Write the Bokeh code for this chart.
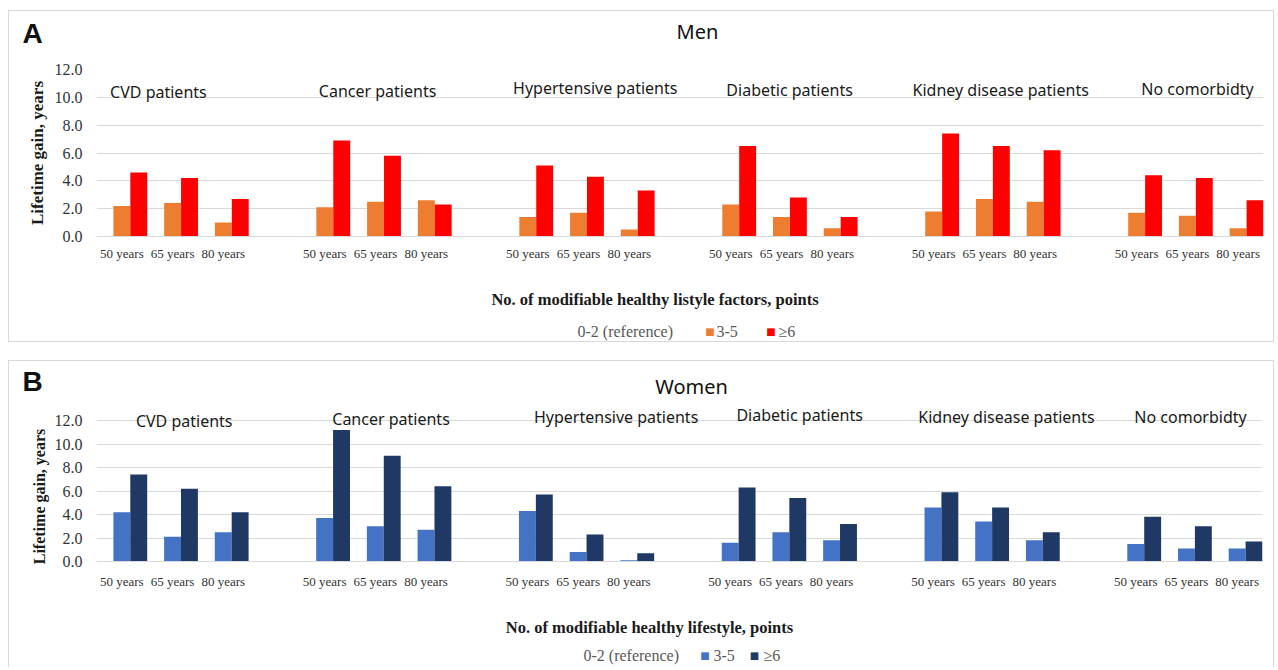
import math
from bokeh.plotting import figure
from bokeh.layouts import column, row
from bokeh.models import ColumnDataSource, Label, FixedTicker, Range1d, NumeralTickFormatter
from bokeh.transform import dodge
from bokeh.embed import file_html
from bokeh.resources import INLINE

# ---------------- data ----------------
groups = ["CVD patients", "Cancer patients", "Hypertensive patients",
          "Diabetic patients", "Kidney disease patients", "No comorbidty"]
ages = ["50 years", "65 years", "80 years"]
series_names = ["0-2 (reference)", "3-5", "\u22656"]

men_ref = [0, 0, 0, 0, 0, 0, 0, 0, 0, 0, 0, 0, 0, 0, 0, 0, 0, 0]
men_3_5 = [2.2, 2.4, 1.0, 2.1, 2.5, 2.6, 1.4, 1.7, 0.5, 2.3, 1.4, 0.6, 1.8, 2.7, 2.5, 1.7, 1.5, 0.6]
men_6 = [4.6, 4.2, 2.7, 6.9, 5.8, 2.3, 5.1, 4.3, 3.3, 6.5, 2.8, 1.4, 7.4, 6.5, 6.2, 4.4, 4.2, 2.6]

women_ref = [0, 0, 0, 0, 0, 0, 0, 0, 0, 0, 0, 0, 0, 0, 0, 0, 0, 0]
women_3_5 = [4.2, 2.1, 2.5, 3.7, 3.0, 2.7, 4.3, 0.8, 0.1, 1.6, 2.5, 1.8, 4.6, 3.4, 1.8, 1.5, 1.1, 1.1]
women_6 = [7.4, 6.2, 4.2, 11.2, 9.0, 6.4, 5.7, 2.3, 0.7, 6.3, 5.4, 3.2, 5.9, 4.6, 2.5, 3.8, 3.0, 1.7]

y_ticks = [0, 2, 4, 6, 8, 10, 12]
y_title = "Lifetime gain, years"

# ---------------- styling ----------------
SERIF = "Liberation Serif"
SANS = "Noto Sans"
GRID = "#d9d9d9"
BORDER = "1px solid #d9d9d9"
W = 1266

# each group takes 3 age slots plus one empty slot
centers = [g * 4 + a + 0.5 for g in range(len(groups)) for a in range(len(ages))]
n_slots = len(groups) * 4 - 1


def add_label(p, x, y, text, font, size, color="#1a1a1a", style="normal", align="center",
              angle=0):
    p.add_layout(Label(x=x, y=y, text=text, text_font=font, angle=angle,
                       text_font_size=size, text_color=color, text_font_style=style,
                       text_align=align, text_baseline="middle"))


def blank_fig(width, height, styles):
    f = figure(width=width, height=height, output_backend="svg", toolbar_location=None,
               x_range=Range1d(0, width), y_range=Range1d(height, 0),
               x_axis_location=None, y_axis_location=None,
               min_border=0, min_border_left=0, min_border_right=0,
               min_border_top=0, min_border_bottom=0)
    try:
        f.frame_align = False
    except Exception:
        pass
    f.outline_line_color = None
    f.grid.visible = False
    f.background_fill_color = "white"
    f.border_fill_color = "white"
    f.styles = styles
    return f


def main_fig(ref, s35, s6, colors, width, height, left_b, top_b, bot_b, y_end, group_pos,
             ylab_size, styles, x_standoff):
    p = figure(width=width, height=height, output_backend="svg", toolbar_location=None,
               x_range=Range1d(0, n_slots), y_range=Range1d(0, y_end),
               min_border_left=left_b, min_border_right=12,
               min_border_top=top_b, min_border_bottom=bot_b)
    try:
        p.frame_align = False
    except Exception:
        pass
    p.outline_line_color = None
    p.background_fill_color = "white"
    p.border_fill_color = "white"
    p.styles = styles

    src = ColumnDataSource(dict(x=centers, ref=ref, s35=s35, s6=s6))
    w = 1 / 3
    p.vbar(x=dodge("x", -w, range=p.x_range), top="ref", width=w, source=src,
           fill_alpha=0, line_alpha=0)
    p.vbar(x=dodge("x", 0, range=p.x_range), top="s35", width=w, source=src,
           fill_color=colors[0], line_color=None)
    p.vbar(x=dodge("x", w, range=p.x_range), top="s6", width=w, source=src,
           fill_color=colors[1], line_color=None)

    p.xaxis.ticker = FixedTicker(ticks=centers)
    p.xaxis.major_label_overrides = {c: ages[i % 3] for i, c in enumerate(centers)}
    p.xaxis.major_label_text_font = SERIF
    p.xaxis.major_label_text_font_size = "13px"
    p.xaxis.major_label_text_color = "#333333"
    p.xaxis.major_label_standoff = x_standoff
    p.xaxis.major_tick_line_color = None
    p.xaxis.major_tick_out = 0
    p.xaxis.major_tick_in = 0
    p.xaxis.minor_tick_line_color = None
    p.xaxis.axis_line_color = GRID

    p.yaxis.ticker = FixedTicker(ticks=y_ticks)
    p.yaxis.formatter = NumeralTickFormatter(format="0.0")
    p.yaxis.major_label_text_font = SERIF
    p.yaxis.major_label_text_font_size = "16px"
    p.yaxis.major_label_text_color = "#333333"
    p.yaxis.major_label_standoff = 14
    p.yaxis.major_tick_line_color = None
    p.yaxis.major_tick_out = 0
    p.yaxis.major_tick_in = 0
    p.yaxis.minor_tick_line_color = None
    p.yaxis.axis_line_color = None
    if ylab_size:
        p.yaxis.axis_label = y_title
        p.yaxis.axis_label_text_font = SERIF
        p.yaxis.axis_label_text_font_style = "bold"
        p.yaxis.axis_label_text_font_size = ylab_size
        p.yaxis.axis_label_text_color = "#1a1a1a"
        p.yaxis.axis_label_standoff = 5

    p.xgrid.grid_line_color = None
    p.ygrid.grid_line_color = GRID

    for g, (gx, gy) in zip(groups, group_pos):
        add_label(p, gx, gy, g, SANS, "16px")
    return p


def footer_legend(f, colors, y, xs):
    add_label(f, xs[0], y, series_names[0], SERIF, "16px", "#595959", align="left")
    add_label(f, xs[1], y, "\u25a0", "DejaVu Sans", "10px", colors[0])
    add_label(f, xs[2], y, series_names[1], SERIF, "16px", "#595959", align="left")
    add_label(f, xs[3], y, "\u25a0", "DejaVu Sans", "10px", colors[1])
    add_label(f, xs[4], y, series_names[2], SERIF, "16px", "#595959", align="left")


# ---------------- panel A: men ----------------
men_colors = ["#ED7D31", "#FF0000"]
hA = blank_fig(W, 45, {"border-top": BORDER, "border-left": BORDER, "border-right": BORDER})
add_label(hA, 23, 22, "A", "Liberation Sans", "28px", "#111111", "bold")
add_label(hA, 688, 20, "Men", SANS, "20px", "#111111")

mA = main_fig(men_ref, men_3_5, men_6, men_colors, width=W, height=214, left_b=87,
              top_b=14, bot_b=33, y_end=12,
              group_pos=[(1.22, 10.35), (5.54, 10.44), (9.83, 10.68),
                         (13.66, 10.5), (17.82, 10.5), (21.70, 10.6)],
              ylab_size="17px", styles={"border-left": BORDER, "border-right": BORDER},
              x_standoff=9)

fA = blank_fig(W, 73, {"border-bottom": BORDER, "border-left": BORDER, "border-right": BORDER})
add_label(fA, 645.5, 30, "No. of modifiable healthy listyle factors, points", SERIF, "16.5px",
          "#1a1a1a", "bold")
footer_legend(fA, men_colors, 62, [568, 700.5, 707, 761.5, 769])

# ---------------- panel B: women ----------------
women_colors = ["#4472C4", "#1F3864"]
hB = blank_fig(W, 42, {"border-top": BORDER, "border-left": BORDER, "border-right": BORDER})
add_label(hB, 23, 20, "B", "Liberation Sans", "28px", "#111111", "bold")
add_label(hB, 682, 25, "Women", SANS, "20px", "#111111")

LW = 42
ylB = blank_fig(LW, 193, {"border-left": BORDER})
add_label(ylB, 30, 94, y_title, SERIF, "16px", "#1a1a1a", "bold", angle=math.pi / 2)

mB = main_fig(women_ref, women_3_5, women_6, women_colors, width=W - LW, height=193,
              left_b=87 - LW + 1, top_b=0, bot_b=34, y_end=13.532,
              group_pos=[(1.73, 11.97), (5.81, 12.17), (10.25, 12.31),
                         (13.87, 12.45), (17.95, 12.26), (21.58, 12.31)],
              ylab_size=None, styles={"border-right": BORDER}, x_standoff=12)

fB = blank_fig(W, 72, {"border-left": BORDER, "border-right": BORDER})
add_label(fB, 640, 32, "No. of modifiable healthy lifestyle, points", SERIF, "16.5px",
          "#1a1a1a", "bold")
footer_legend(fB, women_colors, 60, [574, 695.5, 704, 745, 754])

layout = column(column(hA, mA, fA, spacing=0),
                column(hB, row(ylB, mB, spacing=0), fB, spacing=0),
                spacing=18, margin=(10, 0, 0, 8))
open("out.html", "w").write(file_html(layout, INLINE))
